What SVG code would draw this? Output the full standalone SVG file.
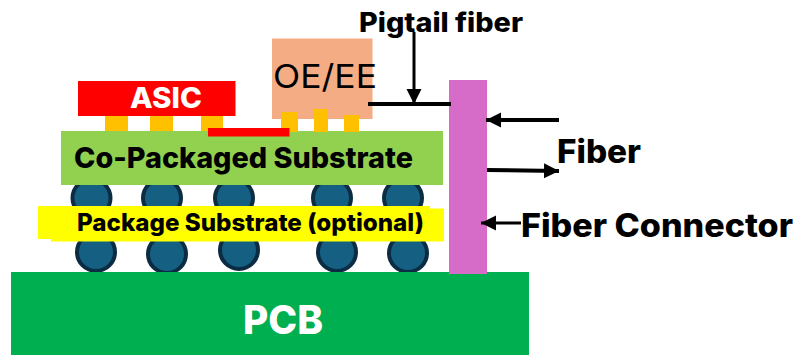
<svg xmlns="http://www.w3.org/2000/svg" width="797" height="355" viewBox="0 0 797 355">
<style>
text{font-family:"Inter","Liberation Sans",sans-serif;font-weight:800;fill:#000}
.w{fill:#fff}
.pad{fill:#ffc000}
.ball{fill:#156082;stroke:#0b2c42;stroke-width:4}
.ln{stroke:#000;stroke-width:3;fill:none}
.ah{fill:#000}
</style>
<defs>
<marker id="a" viewBox="0 0 10 10" refX="10" refY="5" markerWidth="15" markerHeight="16" markerUnits="userSpaceOnUse" orient="auto"><path class="ah" d="M0 0L10 5L0 10Z"/></marker>
</defs>
<rect width="797" height="355" fill="#fff"/>
<g id="balls-upper">
<circle class="ball" cx="91.500" cy="198" r="19"/><circle class="ball" cx="162" cy="198" r="19"/><circle class="ball" cx="234" cy="198" r="19"/><circle class="ball" cx="332" cy="198" r="19"/><circle class="ball" cx="403" cy="198" r="19"/>
</g>
<g id="balls-lower">
<circle class="ball" cx="96" cy="252" r="19"/><circle class="ball" cx="167" cy="254" r="19"/><circle class="ball" cx="239" cy="250" r="19"/><circle class="ball" cx="337" cy="252" r="19"/><circle class="ball" cx="408" cy="253" r="19"/>
</g>
<g id="pcb"><rect x="11" y="272" width="518" height="83" fill="#00b050"/><text class="w" x="243" y="334" font-size="39" textLength="80" lengthAdjust="spacingAndGlyphs">PCB</text></g>
<g id="package-substrate"><rect x="38" y="206" width="392" height="33" fill="#ff0"/><rect x="51" y="208.500" width="393" height="33" fill="#ff0"/><text x="77" y="231" font-size="24" textLength="347" lengthAdjust="spacingAndGlyphs">Package Substrate (optional)</text></g>
<g id="asic-pads"><rect class="pad" x="105" y="116" width="23" height="16"/><rect class="pad" x="150" y="116" width="23" height="16"/><rect class="pad" x="201" y="116" width="22" height="16"/></g>
<g id="co-packaged-substrate"><rect x="61" y="131" width="382" height="54" fill="#92d050"/><text x="74" y="168" font-size="29" textLength="339" lengthAdjust="spacingAndGlyphs">Co-Packaged Substrate</text></g>
<g id="asic"><rect x="78" y="81" width="157.500" height="35" fill="#f00"/><text class="w" x="130" y="108" font-size="28" textLength="72" lengthAdjust="spacingAndGlyphs">ASIC</text></g>
<g id="oe-ee"><rect x="272" y="38.500" width="100.500" height="80.500" fill="#f4ac85"/><rect class="pad" x="281" y="112" width="17" height="20"/><rect class="pad" x="314" y="109" width="14" height="23"/><rect class="pad" x="344" y="115" width="15" height="17"/><text x="273" y="88" font-size="33" style="font-weight:400" textLength="104" lengthAdjust="spacingAndGlyphs">OE/EE</text></g>
<g id="bridge"><rect x="208" y="128" width="81.500" height="8.500" fill="#f00"/></g>
<g id="fiber-connector"><rect x="449" y="80" width="38" height="194" fill="#d66cc8"/></g>
<g id="connectors">
<path class="ln" d="M368 104H451" style="stroke-width:4"/>
<path class="ln" d="M414 32V104" marker-end="url(#a)"/>
<path class="ln" d="M559 120H486" marker-end="url(#a)" style="stroke-width:4"/>
<path class="ln" d="M487 170L559 171" marker-end="url(#a)" style="stroke-width:4"/>
<path class="ln" d="M521 223H481" marker-end="url(#a)" style="stroke-width:3"/>
</g>
<g id="labels">
<text x="359" y="32" font-size="26.500" textLength="164" lengthAdjust="spacingAndGlyphs">Pigtail fiber</text>
<text x="557" y="163" font-size="32" textLength="84" lengthAdjust="spacingAndGlyphs">Fiber</text>
<text x="521" y="237" font-size="32" textLength="272" lengthAdjust="spacingAndGlyphs">Fiber Connector</text>
</g>
</svg>
